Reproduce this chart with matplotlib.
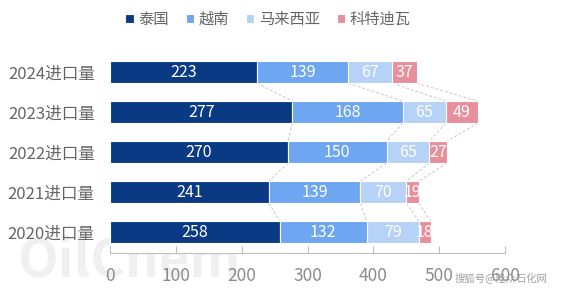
import matplotlib.pyplot as plt
import numpy as np

plt.rcParams['font.family'] = ['Noto Sans CJK SC', 'DejaVu Sans']

years = ['2020进口量', '2021进口量', '2022进口量', '2023进口量', '2024进口量']
series = ['泰国', '越南', '马来西亚', '科特迪瓦']
thailand = [258, 241, 270, 277, 223]
vietnam = [132, 139, 150, 168, 139]
malaysia = [79, 70, 65, 65, 67]
ivory = [18, 19, 27, 49, 37]
colors = ['#0b3a84', '#6ea6f2', '#b6d2f7', '#e78f9b']

data = np.array([thailand, vietnam, malaysia, ivory], dtype=float)

fig = plt.figure(figsize=(5.68, 2.95), dpi=100)
ax = fig.add_axes([0.194, 0.142, 0.695, 0.681])

y = np.arange(len(years))
h = 0.55
left = np.zeros(len(years))
for name, vals, c in zip(series, data, colors):
    ax.barh(y, vals, left=left, height=h, color=c, edgecolor='white', linewidth=0.8, label=name)
    for yi, l, v in zip(y, left, vals):
        ax.text(l + v / 2, yi, f'{int(v)}', ha='center', va='center', color='white', fontsize=11.5)
    left = left + vals

# series lines between bars
cum = np.cumsum(data, axis=0)
for k in range(cum.shape[0]):
    for i in range(len(years) - 1):
        ax.plot([cum[k, i + 1], cum[k, i]], [i + 1 - h / 2, i + h / 2],
                color='#c8c8c8', lw=0.7, ls=(0, (3, 2)), zorder=0)

ax.set_xlim(0, 600)
ax.set_ylim(-0.525, 4.5)
ax.set_xticks(range(0, 601, 100))
ax.set_yticks(y)
ax.set_yticklabels(years, fontsize=12, color='#666666')
ax.tick_params(axis='y', length=0, pad=11)
ax.tick_params(axis='x', colors='#bfbfbf', labelcolor='#8a8a8a', labelsize=12.5,
               direction='in', length=5, pad=10)
for s in ['top', 'right', 'left']:
    ax.spines[s].set_visible(False)
ax.spines['bottom'].set_color('#bfbfbf')

ax.legend(loc='center', bbox_to_anchor=(0.40, 1.165), ncol=4, frameon=False,
          fontsize=11, labelcolor='#666666', handlelength=0.55, handleheight=0.55,
          handletextpad=0.3, columnspacing=1.1)

# watermarks
fig.text(0.03, 0.06, 'OilChem', fontsize=38, color='#e6e6e6', alpha=0.6, fontweight='bold', zorder=-1)
fig.text(0.80, 0.045, '搜狐号@隆众石化网', fontsize=7.5, color='#a0a0a0')

fig.savefig('out.png', dpi=100)
